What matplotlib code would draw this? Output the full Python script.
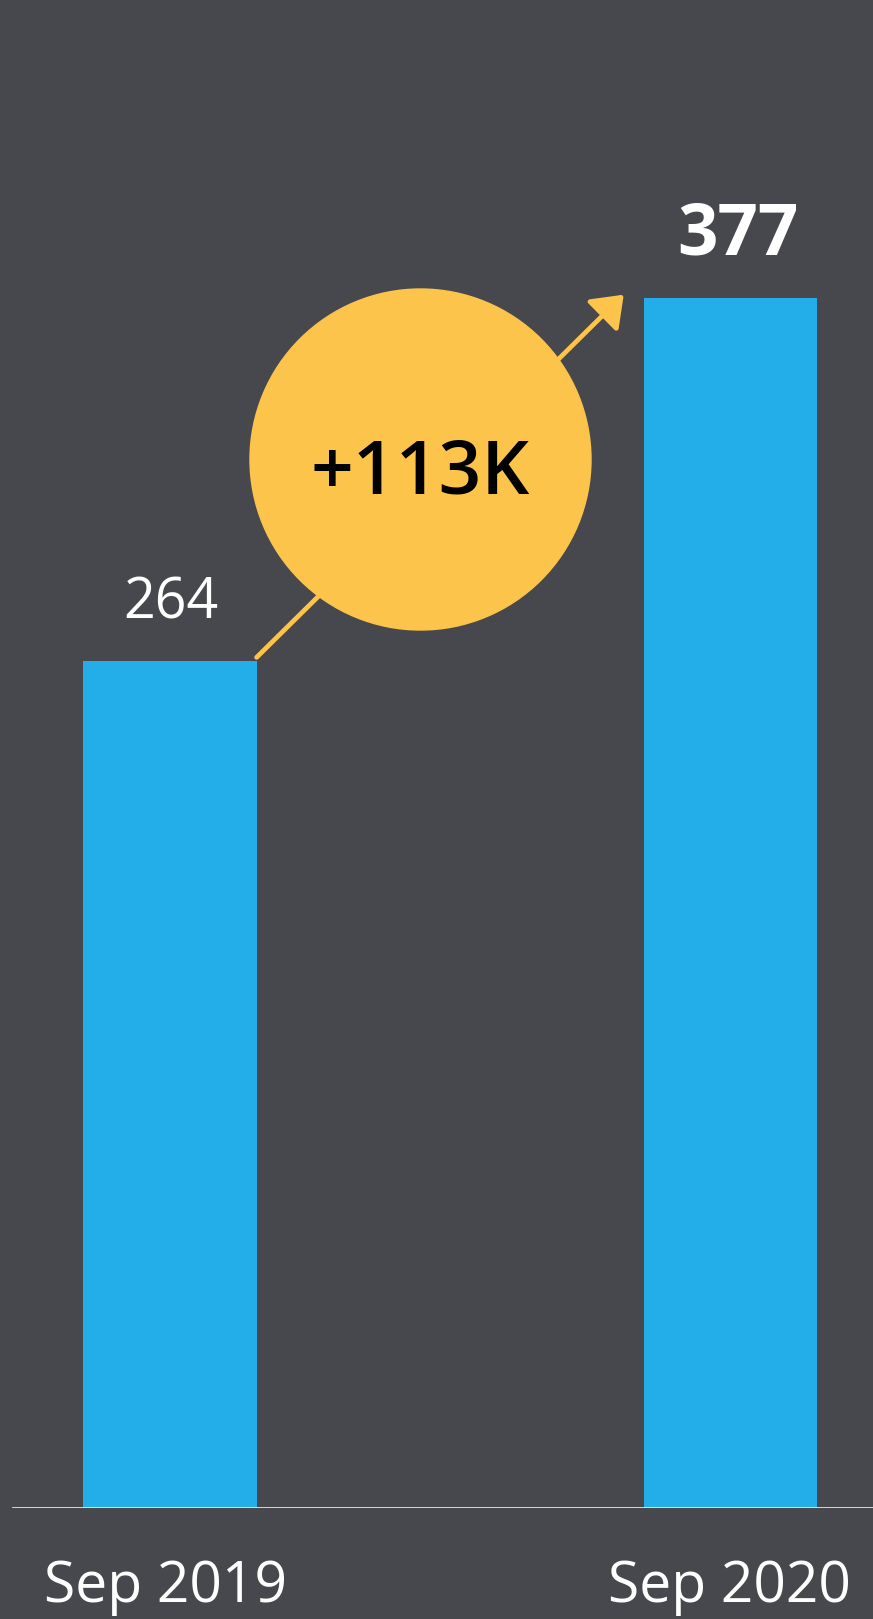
import matplotlib
matplotlib.use("Agg")
import matplotlib.pyplot as plt
import matplotlib.transforms as mtransforms
from matplotlib.patches import Circle

plt.rcParams['font.family'] = ['Open Sans', 'DejaVu Sans']

# Data (thousands)
periods = ["Sep 2019", "Sep 2020"]
values = [264, 377]
change_label = "+113K"

bg = "#47484d"
bar_color = "#23aeea"
accent = "#fdc44b"

fig = plt.figure(figsize=(8.73, 16.19), dpi=100, facecolor=bg)

# main axes: baseline 111 px above the bottom edge
ax = fig.add_axes([0, 111 / 1619, 1, 1508 / 1619])
ax.set_facecolor(bg)
x = list(range(len(values)))
bar_w = 0.309
ax.bar(x, values, width=bar_w, color=bar_color, zorder=2)
ax.set_xlim(-0.3033, 1.2542)
ax.set_ylim(0, 469.8)
ax.axis("off")

# baseline
ax.axhline(0, xmin=13 / 873, xmax=1, color="#f0f0f0", lw=1.9, zorder=3)

# value labels
ax.annotate(str(values[0]), (x[0], values[0]), xytext=(0.5, 30.5), textcoords="offset points",
            ha="center", va="baseline", fontsize=40, color="white")
ax.annotate(str(values[1]), (x[1], values[1]), xytext=(5.4, 31.5), textcoords="offset points",
            ha="center", va="baseline", fontsize=51, color="white", fontweight="bold")

# period labels below the baseline
trans = mtransforms.blended_transform_factory(ax.transData, ax.transAxes)
offsets = [-3, -1]
for xi, lab, dx in zip(x, periods, offsets):
    ax.annotate(lab, (xi, 0), xycoords=trans, xytext=(dx, -68), textcoords="offset points",
                ha="center", va="baseline", fontsize=41, color="white")

# growth arrow from the first bar top to the second
ax.annotate("", xy=(x[1] - bar_w / 2 - 0.036, values[1] + 1),
            xytext=(x[0] + bar_w / 2, values[0] + 1),
            arrowprops=dict(arrowstyle="-|>,head_length=18,head_width=13.5",
                            mutation_scale=1, color=accent, lw=3.4,
                            shrinkA=0, shrinkB=0),
            zorder=4)

# overlay in pixel units for the change bubble
ov = fig.add_axes([0, 0, 1, 1])
ov.set_xlim(0, 873)
ov.set_ylim(1619, 0)
ov.axis("off")
ov.patch.set_alpha(0)
ov.add_patch(Circle((420.5, 459.5), 170.5, color=accent, zorder=5))
ov.text(420, 493, change_label, ha="center", va="baseline", fontsize=54,
        fontweight="semibold", color="black", zorder=6)

fig.savefig("out.png", dpi=100, facecolor=bg)
